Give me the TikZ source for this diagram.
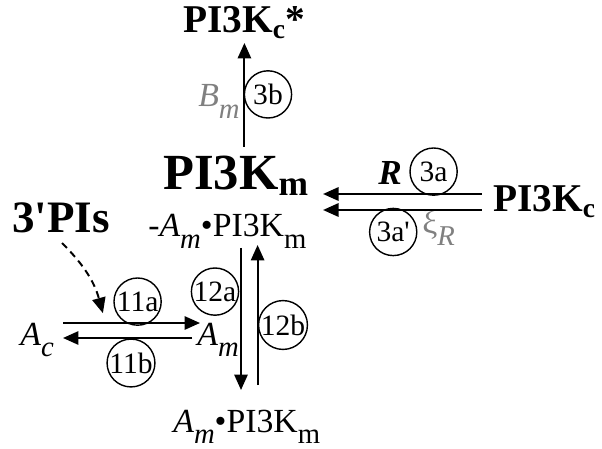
\documentclass[tikz,border=0pt]{standalone}
\usepackage{fontspec}
\setmainfont{Liberation Serif}
\usetikzlibrary{arrows.meta,calc}
\definecolor{ratec}{RGB}{128,128,128}
\newcommand{\lo}[1]{\raisebox{-0.33em}{\scalebox{0.85}{#1}}}

\begin{document}
\begin{tikzpicture}[
  big/.style={inner sep=0pt, anchor=base west, font=\fontsize{36}{40}\selectfont\bfseries},
  mid/.style={inner sep=0pt, anchor=base west, font=\fontsize{28}{32}\selectfont\bfseries},
  lbl/.style={inner sep=0pt, anchor=base west, font=\fontsize{24}{28}\selectfont},
  rate/.style={lbl, text=ratec},
  rxn/.style={draw, circle, line width=1pt, minimum size=1.18cm, inner sep=0pt, font=\fontsize{21}{23}\selectfont},
  arr/.style={-{Triangle[length=11pt,width=9.5pt]}, line width=1.4pt},
  darr/.style={arr, dash pattern=on 5pt off 3.5pt}
]
\useasboundingbox (0,0) rectangle (15.05,11.2);

% --- species ---
\node[mid] (PIcs) at (4.575,10.375) {PI3K\textsubscript{c}*};
\node[big] (PIm) at (4.075,6.45) {PI3K\textsubscript{m}};
\node[lbl] (Amcx) at (3.7,5.275) {-\textit{A}\lo{\textit{m}}•PI3K\lo{m}};
\node[mid] (PIc) at (12.325,5.9) {PI3K\textsubscript{c}};
\node[mid, font=\fontsize{32}{35}\selectfont\bfseries] (PIs) at (0.3,5.375) {3\textquotesingle PIs};
\node[lbl] (Ac) at (0.5,2.575) {\textit{A}\lo{\textit{c}}};
\node[lbl] (Am) at (4.925,2.575) {\textit{A}\lo{\textit{m}}};
\node[lbl] (Amb) at (4.325,0.4) {\textit{A}\lo{\textit{m}}•PI3K\lo{m}};

% --- rate labels ---
\node[rate] (Bm) at (4.95,8.525) {\textit{B}\lo{\textit{m}}};
\node[lbl, font=\fontsize{25}{28}\selectfont\bfseries\itshape] (R) at (9.45,6.575) {R};
\node[rate] (xi) at (10.55,5.35) {ξ\lo{\textit{R}}};

% --- reaction numbers ---
\node[rxn] (c3b) at (6.7,8.84) {3b};
\node[rxn] (c3a) at (10.84,6.91) {3a};
\node[rxn] (c3ap) at (9.83,5.4) {3a\textquotesingle};
\node[rxn] (c11a) at (3.44,3.66) {11a};
\node[rxn] (c12a) at (5.375,3.91) {12a};
\node[rxn] (c12b) at (7.075,3.075) {12b};
\node[rxn] (c11b) at (3.275,2.125) {11b};

% --- reactions ---
\draw[arr] ($(PIm.base -| PIcs.base)+(0,1.075)$) -- ([yshift=-0.25cm]PIcs.base);
\draw[arr] ([shift={(-0.28,0.45)}]PIc.base west) -- ([shift={(0.35,-0.1)}]PIm.base east);
\draw[arr] ([shift={(-0.28,0.05)}]PIc.base west) -- ([shift={(0.35,-0.5)}]PIm.base east);
\draw[arr] ([shift={(1.075,0.55)}]Ac.base west) -- ([shift={(0.075,0.55)}]Am.base west);
\draw[arr] ([shift={(-0.125,0.175)}]Am.base west) -- ([shift={(1.075,0.175)}]Ac.base west);
\draw[arr] ([shift={(2.325,-0.275)}]Amcx.base west) -- ([shift={(1.7,1.05)}]Amb.base west);
\draw[arr] ([shift={(2.115,1.175)}]Amb.base west) -- ([shift={(2.74,-0.2)}]Amcx.base west);
\draw[darr] ([shift={(1.25,-0.25)}]PIs.base west) to[bend left=15] ([shift={(-0.26,-0.29)}]c11a.west);
\end{tikzpicture}
\end{document}
